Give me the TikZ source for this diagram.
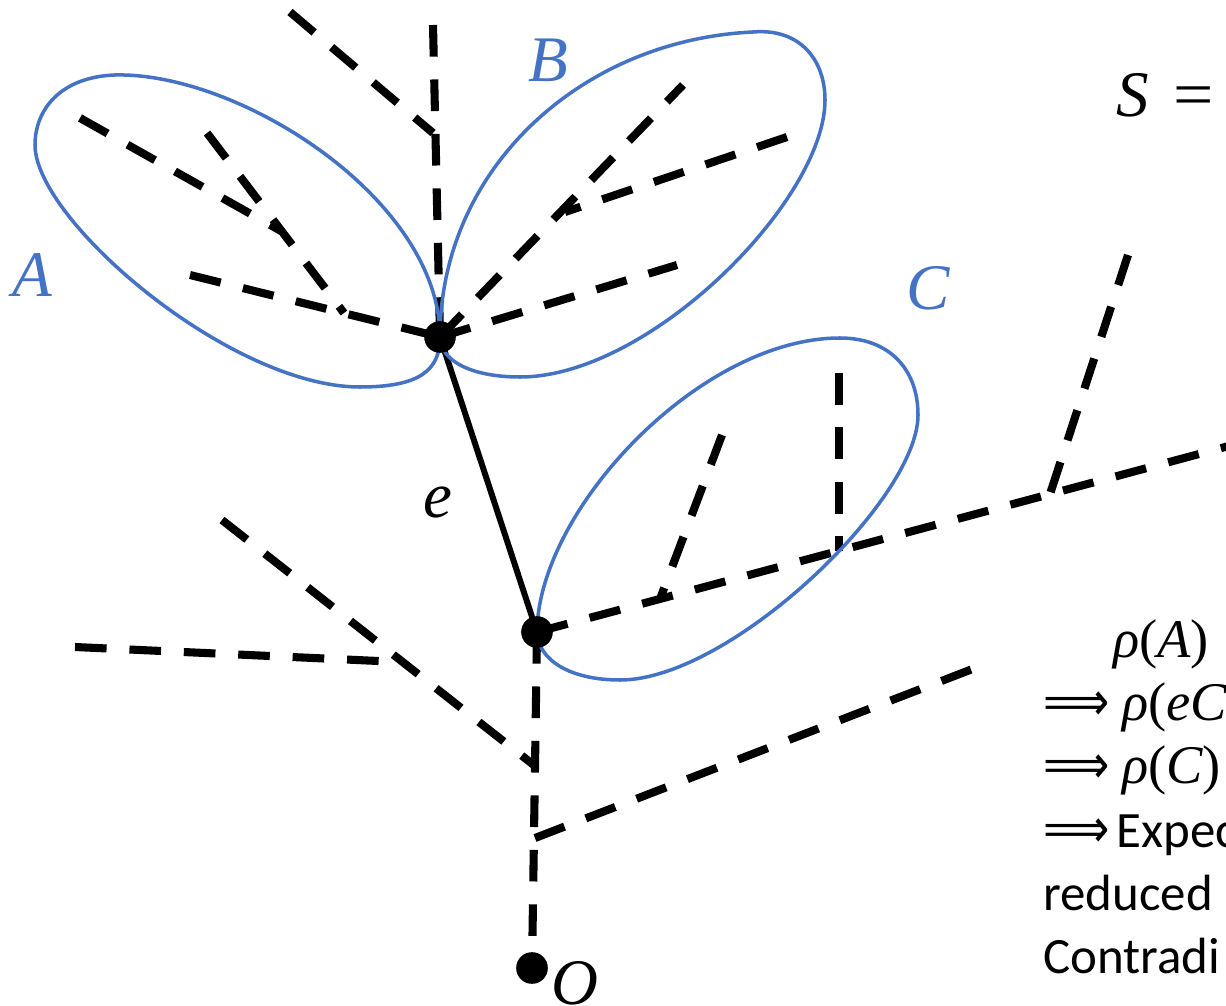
\documentclass[tikz,border=0pt]{standalone}
\usepackage{fontspec}
\usepackage{graphicx}
\setmainfont{Carlito}
\newfontfamily\mfont{Liberation Serif}
\newfontfamily\arrowfont{DejaVu Sans}
\definecolor{lblue}{HTML}{4472C4}
\newcommand{\mi}[1]{{\mfont\itshape #1}}
\newcommand{\mr}[1]{{\mfont #1}}
\newcommand{\implarrow}{\scalebox{0.85}[1]{\arrowfont ⟹}}
\tikzset{
  dline/.style={line width=4.6pt, dash pattern=on 18pt off 13pt},
  loopline/.style={draw=lblue, line width=2pt},
  solidedge/.style={line width=3.4pt},
  dot/.style={circle, fill=black, inner sep=0pt, minimum size=18pt},
  lbl/.style={anchor=base, inner sep=0pt, font=\fontsize{37}{40}\selectfont, text=lblue},
  blbl/.style={anchor=base, inner sep=0pt, font=\fontsize{37}{40}\selectfont},
  txt/.style={anchor=base west, inner sep=0pt, font=\fontsize{29}{34}\selectfont},
  mtxt/.style={anchor=base west, inner sep=0pt, font=\fontsize{31}{34}\selectfont},
}
\begin{document}
\begin{tikzpicture}[x=0.02cm,y=-0.02cm]
\useasboundingbox (0,0) rectangle (1226,1006);
\clip (0,0) rectangle (1226,1006);

% main nodes
\coordinate (P) at (440,337);
\coordinate (Q) at (537,632);
\coordinate (O) at (532,968);

% auxiliary endpoints
\coordinate (t1) at (290,12);
\coordinate (t2) at (433,133);
\coordinate (t3) at (433,25);
\coordinate (a1) at (80,118);
\coordinate (a2) at (281,231);
\coordinate (a3) at (207,133);
\coordinate (a4) at (344,313);
\coordinate (a5) at (190,275);
\coordinate (b1) at (683,85);
\coordinate (b2) at (787,137);
\coordinate (b3) at (565,212);
\coordinate (b4) at (677,265);
\coordinate (r1) at (1240,443);
\coordinate (r2) at (1128,255);
\coordinate (r3) at (1050,494);
\coordinate (c1) at (722,435);
\coordinate (c2) at (660,599);
\coordinate (c3) at (839,373);
\coordinate (c4) at (839,551);
\coordinate (d1) at (535,838);
\coordinate (d2) at (988,663);
\coordinate (d3) at (222,520);
\coordinate (d4) at (535,766);
\coordinate (d5) at (75,647);
\coordinate (d6) at (400,662);

% dashed tree
\draw[dline] (t1) -- (t2);
\draw[dline] (t3) -- (P);
\draw[dline] (a1) -- (a2);
\draw[dline] (a3) -- (a4);
\draw[dline] (a5) -- (P);
\draw[dline] (P) -- (b1);
\draw[dline] (b2) -- (b3);
\draw[dline] (P) -- (b4);
\draw[dline] (Q) -- (r1);
\draw[dline] (r2) -- (r3);
\draw[dline] (c1) -- (c2);
\draw[dline] (c3) -- (c4);
\draw[dline] (Q) -- (O);
\draw[dline] (d1) -- (d2);
\draw[dline] (d3) -- (d4);
\draw[dline] (d5) -- (d6);

% solid edge e
\draw[solidedge] (P) -- (Q);

% loops
\draw[loopline] (P) .. controls (440,200) and (240,72) .. (115,75)
  .. controls (60,77) and (35,110) .. (35,145)
  .. controls (35,220) and (230,387) .. (360,387)
  .. controls (420,387) and (440,370) .. (P);
\draw[loopline] (P) .. controls (440,170) and (580,40) .. (753,32)
  .. controls (800,28) and (825,60) .. (825,100)
  .. controls (825,200) and (650,377) .. (520,377)
  .. controls (470,377) and (440,360) .. (P);
\draw[loopline] (Q) .. controls (538,510) and (700,338) .. (840,338)
  .. controls (890,338) and (918,370) .. (918,415)
  .. controls (918,500) and (730,680) .. (620,680)
  .. controls (570,680) and (538,660) .. (Q);

% dots
\node[dot] (nP) at (P) {};
\node[dot] (nQ) at (Q) {};
\node[dot] (nO) at (O) {};

% labels
\node[lbl] (lA) at (32,297) {\mi{A}};
\node[lbl] (lB) at (548,82) {\mi{B}};
\node[lbl] (lC) at (928,310) {\mi{C}};
\node[blbl] (le) at (438,517) {\mi{e}};
\node[blbl] (lO) at (575,1004) {\mi{O}};
\node[blbl, anchor=base west] (lS) at (1116,117) {\mi{S}\hspace{14pt}\scalebox{1.1}[1]{\mr{=}}};

% right-hand text
\node[mtxt] (l1) at (1113,657) {\mi{ρ}\mr{(}\mi{A}\mr{)}};
\node[mtxt] (l2) at (1043,720) {\implarrow\hspace{7pt}\mi{ρ}\mr{(}\mi{eC}};
\node[mtxt] (l3) at (1043,783) {\implarrow\hspace{7pt}\mi{ρ}\mr{(}\mi{C}\mr{)}};
\node[txt] (l4) at (1043,847) {{\fontsize{31}{34}\selectfont\implarrow}\hspace{4pt}Expec};
\node[txt] (l5) at (1043,910) {reduced};
\node[txt] (l6) at (1043,973) {Contradi};
\end{tikzpicture}
\end{document}
